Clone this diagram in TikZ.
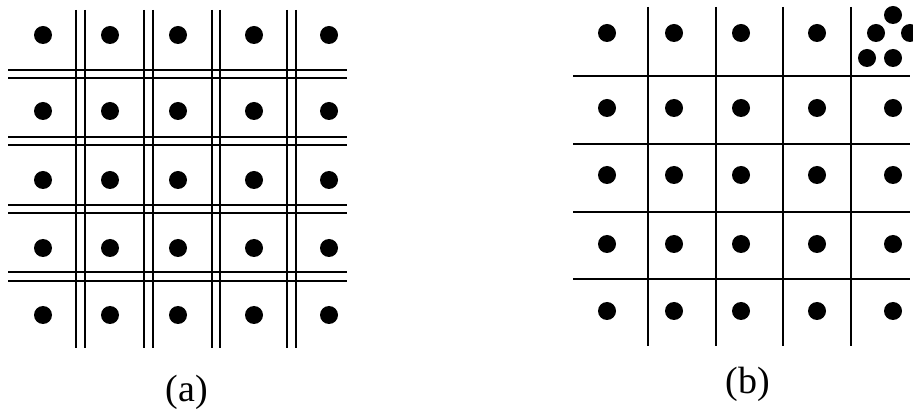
\documentclass[tikz,border=0pt]{standalone}
\usepackage{fontspec}
\setmainfont{Liberation Serif}
\begin{document}
\begin{tikzpicture}[x=1pt,y=-1pt,
  gridline/.style={line width=1.6pt,black},
  dot/.style={circle,fill=black,inner sep=0pt,minimum size=18pt},
  caption/.style={font=\fontsize{38}{40}\selectfont,inner sep=0pt}]
\useasboundingbox (0,0) rectangle (913,419);
\clip (0,0) rectangle (913,419);
% ---------- (a) ----------
\foreach \a/\b in {76/85,144/153,212/220,287/296}{
  \draw[gridline] (\a,10) -- (\a,348);
  \draw[gridline] (\b,10) -- (\b,348);
}
\foreach \a/\b in {70/78,137/145,205/213,272/281}{
  \draw[gridline] (8,\a) -- (347,\a);
  \draw[gridline] (8,\b) -- (347,\b);
}
\foreach \x [count=\i] in {43,110,178,254,329}{
  \foreach \y [count=\j] in {35,111,180,248,315}{
    \node[dot] (a-\i-\j) at (\x,\y) {};
  }
}
\node[caption] (capa) at (187,392) {(a)};
% ---------- (b) ----------
\foreach \a in {648,716,783,851}{
  \draw[gridline] (\a,7) -- (\a,346);
}
\foreach \a in {76,144,212,279}{
  \draw[gridline] (573,\a) -- (910,\a);
}
\foreach \x [count=\i] in {607,674,741,817,893}{
  \foreach \y [count=\j] in {33,108,175,244,311}{
    \ifnum\i=5 \ifnum\j=1 \else
      \node[dot] (b-\i-\j) at (\x,\y) {};
    \fi\else
      \node[dot] (b-\i-\j) at (\x,\y) {};
    \fi
  }
}
\node[dot] (c1) at (893,15) {};
\node[dot] (c2) at (876,33) {};
\node[dot] (c3) at (910,33) {};
\node[dot] (c4) at (867,58) {};
\node[dot] (c5) at (893,58) {};
\node[caption] (capb) at (748,384) {(b)};
\end{tikzpicture}
\end{document}
